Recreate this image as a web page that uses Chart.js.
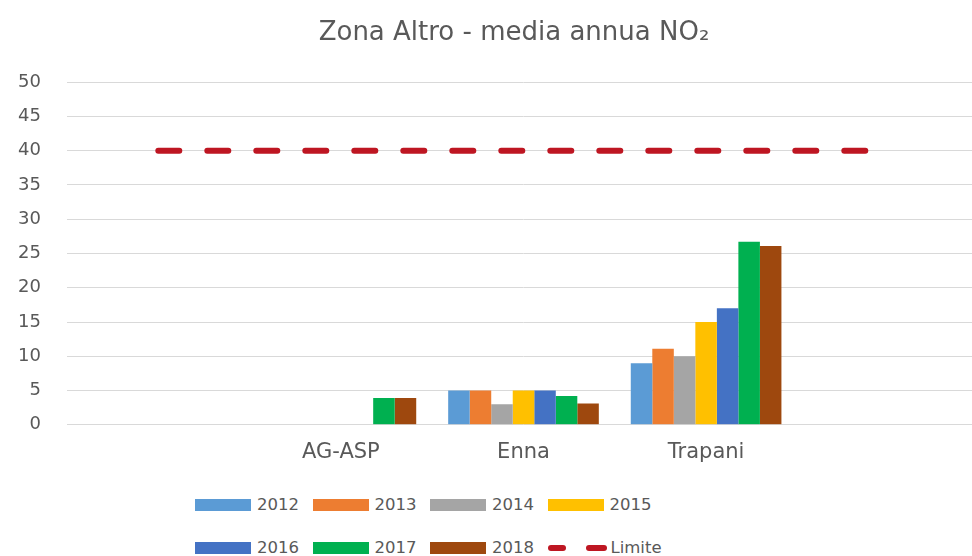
<!DOCTYPE html>
<html>
<head>
<meta charset="utf-8">
<script src="https://cdn.jsdelivr.net/npm/chart.js@4.4.1/dist/chart.umd.min.js"></script>
<style>
  body { margin: 0; background: #fff; overflow: hidden; }
  #wrap { position: relative; width: 972px; height: 556px; overflow: hidden; }
  #chartBox { position: absolute; left: 0; top: 0; width: 1058px; height: 480px; }
  #legend { position: absolute; left: 195px; top: 483px; font-family: "DejaVu Sans", sans-serif; font-size: 16.5px; color: #595959; }
  .row { display: flex; height: 43px; align-items: center; }
  .item { width: 117.5px; display: flex; align-items: center; }
  .box { width: 56px; height: 12px; margin-right: 6px; }
  .dash { width: 24px; height: 6px; border-radius: 3px; }
</style>
</head>
<body>
<div id="wrap">
  <div id="chartBox"><canvas id="no2Chart"></canvas></div>
  <div id="legend"></div>
</div>
<script>
// categories (first and last are empty slots, like the original sheet)
const categories = ["", "AG-ASP", "Enna", "Trapani", ""];
const years = ["2012", "2013", "2014", "2015", "2016", "2017", "2018"];

const v2012 = [null, null, 5, 9, null];
const v2013 = [null, null, 5, 11.1, null];
const v2014 = [null, null, 3, 10, null];
const v2015 = [null, null, 5, 15, null];
const v2016 = [null, null, 5, 17, null];
const v2017 = [null, 3.9, 4.2, 26.7, null];
const v2018 = [null, 3.9, 3.1, 26.1, null];
const limite = [40, 40, 40, 40, 40];

const yearValues = [v2012, v2013, v2014, v2015, v2016, v2017, v2018];
const yearColors = ["#5B9BD5", "#ED7D31", "#A5A5A5", "#FFC000", "#4472C4", "#00B050", "#9E480E"];
const limitColor = "#BE1622";
const textColor = "#595959";

const datasets = years.map((y, i) => ({
    type: "bar",
    label: y,
    data: yearValues[i],
    backgroundColor: yearColors[i],
    categoryPercentage: 0.825,
    barPercentage: 1,
    order: 2
}));
datasets.push({
    type: "line",
    label: "Limite",
    data: limite,
    borderColor: limitColor,
    borderWidth: 6,
    borderDash: [21, 28],
    borderCapStyle: "round",
    pointRadius: 0,
    fill: false,
    order: 1
});

new Chart(document.getElementById("no2Chart").getContext("2d"), {
    type: "bar",
    data: { labels: categories, datasets: datasets },
    options: {
        responsive: true,
        maintainAspectRatio: false,
        animation: false,
        layout: { padding: { left: 18, right: 48, bottom: 0 } },
        plugins: {
            legend: { display: false },
            tooltip: { enabled: false },
            title: {
                display: true,
                text: "Zona Altro - media annua NO₂",
                color: textColor,
                font: { family: "DejaVu Sans", size: 26, weight: "normal" },
                padding: { top: 18, bottom: 33 }
            }
        },
        scales: {
            x: {
                grid: { display: false, drawTicks: false },
                border: { display: false },
                ticks: { color: textColor, padding: 15, font: { family: "DejaVu Sans", size: 21 } }
            },
            y: {
                min: 0,
                max: 50,
                afterFit: scale => { scale.width = 49; },
                grid: { color: "#D9D9D9", drawTicks: false },
                border: { display: false },
                ticks: { stepSize: 5, color: textColor, padding: 26, font: { family: "DejaVu Sans", size: 18 } }
            },
            // empty right-hand space so the title sits where it does in the original
            yRight: {
                position: "right",
                grid: { display: false, drawTicks: false },
                border: { display: false },
                ticks: { display: false },
                afterFit: scale => { scale.width = 30; }
            }
        }
    }
});

// legend, 4 items per row like the original
const legendItems = years.map((y, i) => ({ label: y, color: yearColors[i], line: false }));
legendItems.push({ label: "Limite", color: limitColor, line: true });
const legend = document.getElementById("legend");
for (let r = 0; r < 2; r++) {
    const row = document.createElement("div");
    row.className = "row";
    legendItems.slice(r * 4, r * 4 + 4).forEach(it => {
        const item = document.createElement("div");
        item.className = "item";
        if (it.line) {
            const sym = document.createElement("div");
            sym.style.cssText = "width:59px;display:flex;justify-content:space-between;margin-right:4px";
            for (let k = 0; k < 2; k++) {
                const d = document.createElement("div");
                d.className = "dash";
                d.style.background = it.color;
                d.style.width = k === 0 ? "18px" : "21px";
                sym.appendChild(d);
            }
            item.appendChild(sym);
        } else {
            const box = document.createElement("div");
            box.className = "box";
            box.style.background = it.color;
            item.appendChild(box);
        }
        const t = document.createElement("span");
        t.textContent = it.label;
        item.appendChild(t);
        row.appendChild(item);
    });
    legend.appendChild(row);
}
</script>
</body>
</html>
